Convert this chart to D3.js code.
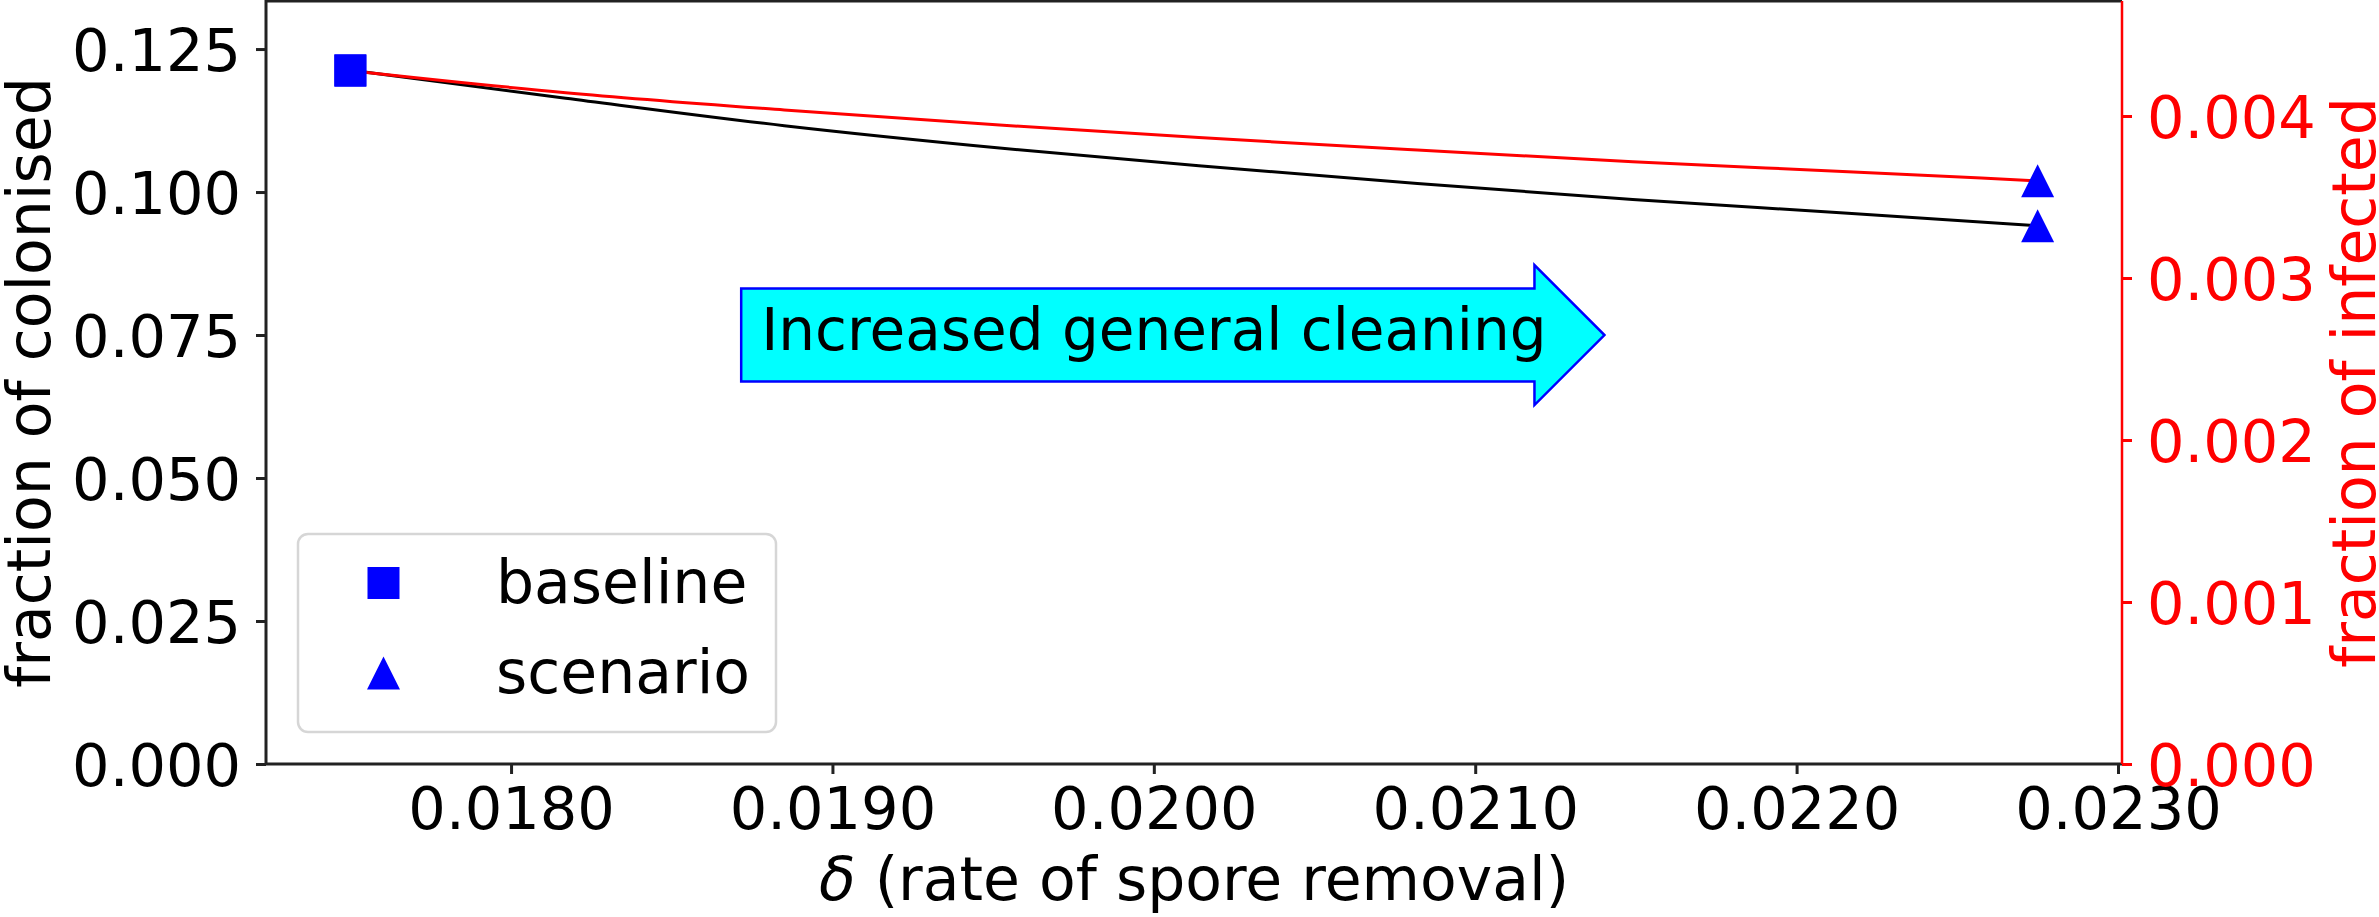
<!DOCTYPE html>
<html>
<head>
<meta charset="utf-8">
<script src="https://cdn.jsdelivr.net/npm/d3@7"></script>
<style>
  body { margin: 0; background: #fff; }
  svg { display: block; font-family: "DejaVu Sans", sans-serif; }
</style>
</head>
<body>
<svg id="chart"></svg>
<script>
// sweep of delta
var delta = [0.0175, 0.01817, 0.01885, 0.01952, 0.02014, 0.02082, 0.02149, 0.02216, 0.02275];
var colonised = [0.1213, 0.1164, 0.1116, 0.1077, 0.1046, 0.1015, 0.0987, 0.0963, 0.0941];
var infected = [0.00428, 0.004144, 0.004037, 0.003944, 0.003867, 0.00379, 0.003718, 0.003656, 0.0036];

var xTicks = [0.0180, 0.0190, 0.0200, 0.0210, 0.0220, 0.0230];
var yLeftTicks = [0, 0.025, 0.05, 0.075, 0.1, 0.125];
var yRightTicks = [0, 0.001, 0.002, 0.003, 0.004];

var markers = [
  {label: "baseline", shape: "square", i: 0},
  {label: "scenario", shape: "triangle", i: delta.length - 1}
];
var arrowText = "Increased general cleaning";
var arrowAt = {x: 0.0200, y: 0.075};

function init(){
    var width = 2379;
    var height = 917;
    var left = 266, right = 2122, top = 1, bottom = 764;
    var fs = 59;
    var svg = d3.select("#chart").attr("width", width).attr("height", height);

    var x = d3.scaleLinear().domain([0.0172375, 0.0230125]).range([left, right]);
    var yL = d3.scaleLinear().domain([0, 0.1334]).range([bottom, top]);
    var yR = d3.scaleLinear().domain([0, 0.00471]).range([bottom, top]);

    // axes
    var gx = svg.append("g").attr("transform", "translate(0," + bottom + ")")
        .call(d3.axisBottom(x).tickValues(xTicks).tickFormat(d3.format(".4f"))
            .tickSize(10).tickSizeOuter(0).tickPadding(13));
    var gyl = svg.append("g").attr("transform", "translate(" + left + ",0)")
        .call(d3.axisLeft(yL).tickValues(yLeftTicks).tickFormat(d3.format(".3f"))
            .tickSize(10).tickSizeOuter(0).tickPadding(15));
    var gyr = svg.append("g").attr("transform", "translate(" + right + ",0)")
        .call(d3.axisRight(yR).tickValues(yRightTicks).tickFormat(d3.format(".3f"))
            .tickSize(10).tickSizeOuter(0).tickPadding(15));

    [gx, gyl, gyr].forEach(function(g){
        g.select(".domain").remove();
        g.selectAll("text").attr("font-size", fs).attr("font-family", "DejaVu Sans");
        g.selectAll("line").attr("stroke-width", 3);
    });
    gx.selectAll("line").attr("stroke", "#222");
    gx.selectAll("text").attr("fill", "#000");
    gyl.selectAll("line").attr("stroke", "#222");
    gyl.selectAll("text").attr("fill", "#000").attr("dy", "0.36em");
    gyr.selectAll("line").attr("stroke", "red");
    gyr.selectAll("text").attr("fill", "red").attr("dy", "0.36em");

    // spines
    svg.append("path").attr("fill", "none").attr("stroke", "#222").attr("stroke-width", 3)
        .attr("d", "M" + right + "," + top + "H" + left + "V" + bottom + "H" + right);
    svg.append("line").attr("x1", right).attr("x2", right).attr("y1", top).attr("y2", bottom)
        .attr("stroke", "red").attr("stroke-width", 2.5);

    // lines
    var lineL = d3.line().x(function(d, i){ return x(delta[i]); }).y(function(d){ return yL(d); })
        .curve(d3.curveMonotoneX);
    var lineR = d3.line().x(function(d, i){ return x(delta[i]); }).y(function(d){ return yR(d); })
        .curve(d3.curveMonotoneX);

    svg.append("path").attr("fill", "none").attr("stroke", "#000").attr("stroke-width", 3)
        .attr("d", lineL(colonised));
    svg.append("path").attr("fill", "none").attr("stroke", "red").attr("stroke-width", 3)
        .attr("d", lineR(infected));

    var sq = d3.symbol().type(d3.symbolSquare).size(32 * 32);
    function tri(cx, cy, s){
        var h = s / 2;
        return "M" + cx + "," + (cy - h) + "L" + (cx + h) + "," + (cy + h) + "L" + (cx - h) + "," + (cy + h) + "Z";
    }
    function drawMarker(g, shape, cx, cy){
        if(shape == "square"){
            g.append("path").attr("d", sq).attr("transform", "translate(" + cx + "," + cy + ")").attr("fill", "#0000ff");
        }else{
            g.append("path").attr("d", tri(cx, cy, 33)).attr("fill", "#0000ff");
        }
    }
    var mk = svg.append("g");
    markers.forEach(function(m){
        drawMarker(mk, m.shape, x(delta[m.i]), yL(colonised[m.i]));
        drawMarker(mk, m.shape, x(delta[m.i]), yR(infected[m.i]));
    });

    // arrow annotation
    var ag = svg.append("g");
    var arrow = ag.append("path").attr("fill", "#00ffff").attr("stroke", "#0000ff").attr("stroke-width", 2.5);
    var at = ag.append("text")
        .attr("x", x(arrowAt.x)).attr("y", yL(arrowAt.y) + 15)
        .attr("text-anchor", "middle").attr("font-size", 58).attr("fill", "#000")
        .text(arrowText);
    var len = at.node().getComputedTextLength();
    var cx = x(arrowAt.x), cy = yL(arrowAt.y);
    var l = cx - len / 2 - 20, se = cx + len / 2 - 12, tip = cx + len / 2 + 58;
    arrow.attr("d", "M" + l + "," + (cy - 46.5) + "H" + se + "V" + (cy - 70) + "L" + tip + "," + cy +
        "L" + se + "," + (cy + 70) + "V" + (cy + 46.5) + "H" + l + "Z");

    // legend
    var lg = svg.append("g");
    lg.append("rect").attr("x", 298).attr("y", 534).attr("width", 478).attr("height", 198)
        .attr("rx", 10).attr("fill", "#fff").attr("fill-opacity", 0.8)
        .attr("stroke", "#d6d6d6").attr("stroke-width", 2.5);
    markers.forEach(function(m, i){
        var ly = 583 + i * 90;
        drawMarker(lg, m.shape, 383.5, ly);
        lg.append("text").attr("x", 496).attr("y", ly + 20).attr("font-size", 60).attr("fill", "#000").text(m.label);
    });

    // axis labels
    var xl = svg.append("text").attr("x", (left + right) / 2).attr("y", 900)
        .attr("text-anchor", "middle").attr("font-size", 60).attr("fill", "#000");
    xl.append("tspan").attr("font-style", "italic").text("δ");
    xl.append("tspan").text(" (rate of spore removal)");

    svg.append("text").attr("transform", "translate(50," + (top + bottom) / 2 + ") rotate(-90)")
        .attr("text-anchor", "middle").attr("font-size", 60).attr("fill", "#000")
        .text("fraction of colonised");
    svg.append("text").attr("transform", "translate(2375," + (top + bottom) / 2 + ") rotate(-90)")
        .attr("text-anchor", "middle").attr("font-size", 60).attr("fill", "red")
        .text("fraction of infected");
}
init();
</script>
</body>
</html>
